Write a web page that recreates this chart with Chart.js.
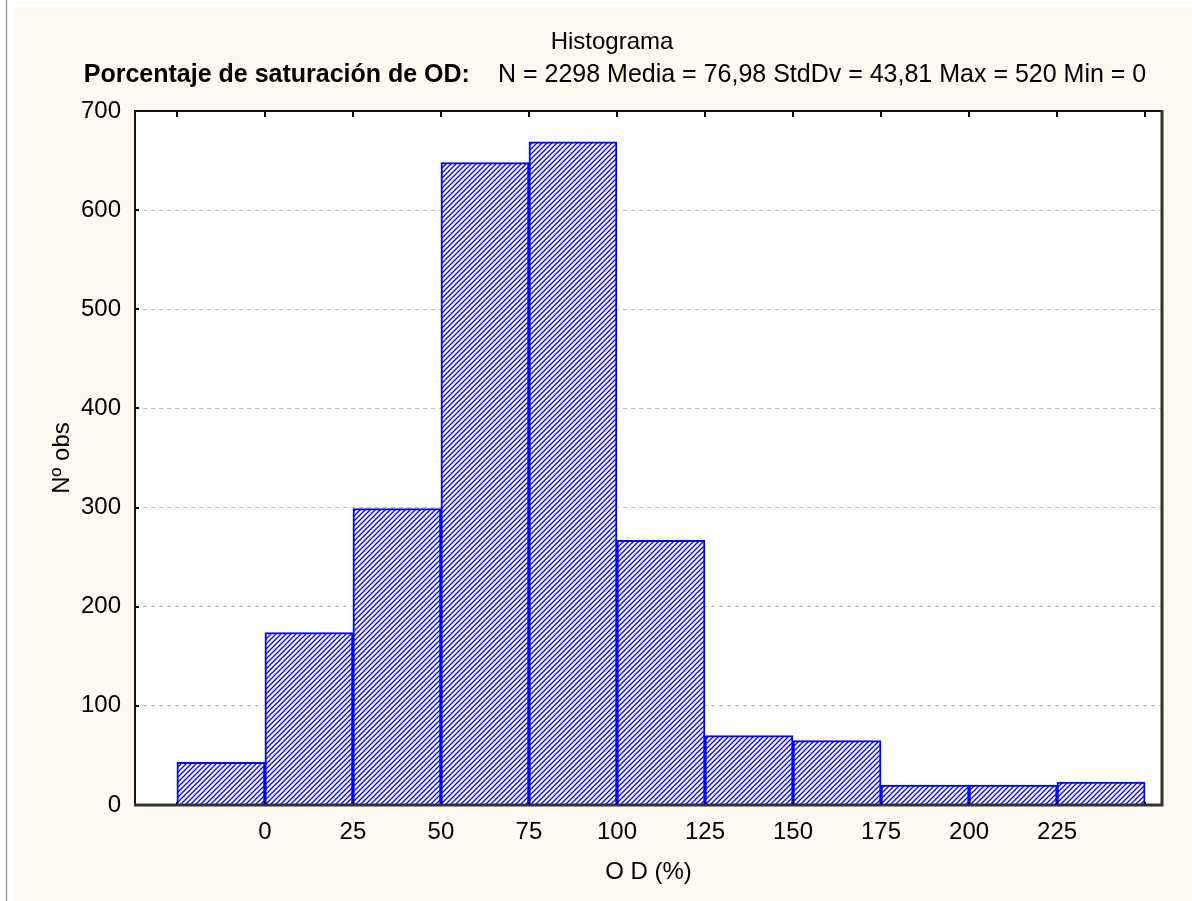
<!DOCTYPE html>
<html>
<head>
<meta charset="utf-8">
<title>Histograma</title>
<script src="https://cdn.jsdelivr.net/npm/chart.js@4.4.1/dist/chart.umd.min.js"></script>
<style>
    html, body { margin: 0; padding: 0; background: #fdf9ef; }
    #cnv-hist { display: block; }
</style>
</head>
<body>
<canvas id="cnv-hist" width="1192" height="901"></canvas>
<script>
// bin edges of the histogram (OD %), one bar between each pair
var binEdges = [-25, 0, 25, 50, 75, 100, 125, 150, 175, 200, 225, 250];
// number of observations per bin
var counts = [43, 174, 299, 648, 669, 267, 70, 65, 20, 20, 23];
// labelled x ticks
var xTicks = [0, 25, 50, 75, 100, 125, 150, 175, 200, 225];
// y ticks
var yTicks = [0, 100, 200, 300, 400, 500, 600, 700];
// visible x range of the plot
var xRange = [-36.9, 254.8];

var titleText = 'Histograma';
var subtitleBold = 'Porcentaje de saturación de OD:';
var subtitleStats = 'N = 2298 Media = 76,98 StdDv = 43,81 Max = 520 Min = 0';

(function(win){

    var FONT = "'Liberation Sans', Arial, sans-serif";
    var CREAM = '#fdf9ef';
    var BLUE = '#0000ff';

    var init = function(){
        Chart.defaults.font.family = FONT;
        Chart.defaults.font.size = 24;
        Chart.defaults.color = '#000';
        setChart();
    };

    //--------------------------------------
    // Helpers
    //--------------------------------------
    var makeHatch = function(ctx){
        var c = document.createElement('canvas');
        c.width = 5;
        c.height = 5;
        var g = c.getContext('2d');
        g.fillStyle = '#fff';
        g.fillRect(0, 0, 5, 5);
        g.strokeStyle = BLUE;
        g.lineWidth = 1.3;
        g.beginPath();
        g.moveTo(-1, 6); g.lineTo(6, -1);
        g.moveTo(-1, 1); g.lineTo(1, -1);
        g.moveTo(4, 6); g.lineTo(6, 4);
        g.stroke();
        return ctx.createPattern(c, 'repeat');
    };

    var getBarData = function(){
        var pts = [];
        for(var i = 0; i < counts.length; i++){
            pts.push({ x: (binEdges[i] + binEdges[i + 1]) / 2, y: counts[i] });
        }
        return pts;
    };

    //--------------------------------------
    // Plugins
    //--------------------------------------
    var backgroundPlugin = {
        id: 'background',
        beforeDraw: function(chart){
            var ctx = chart.ctx;
            var a = chart.chartArea;
            ctx.save();
            ctx.fillStyle = CREAM;
            ctx.fillRect(0, 0, chart.width, chart.height);
            //white window edge at left and top
            ctx.fillStyle = '#fff';
            ctx.fillRect(0, 0, 15, chart.height);
            ctx.fillRect(0, 0, chart.width, 6);
            ctx.strokeStyle = '#a0a0a0';
            ctx.lineWidth = 1.5;
            ctx.beginPath();
            ctx.moveTo(6.5, 0);
            ctx.lineTo(6.5, chart.height);
            ctx.stroke();
            //plot area
            ctx.fillStyle = '#fff';
            ctx.fillRect(a.left, a.top, a.right - a.left, a.bottom - a.top);
            ctx.restore();
        }
    };

    var framePlugin = {
        id: 'frame',
        afterDraw: function(chart){
            var ctx = chart.ctx;
            var a = chart.chartArea;
            var xs = chart.scales.x;
            var ys = chart.scales.y;
            var i, px;
            ctx.save();

            //tick marks pointing inward
            ctx.strokeStyle = '#000';
            ctx.lineWidth = 2;
            ctx.beginPath();
            for(i = 0; i < binEdges.length; i++){
                px = Math.round(xs.getPixelForValue(binEdges[i]));
                ctx.moveTo(px, a.top);
                ctx.lineTo(px, a.top + 6);
                ctx.moveTo(px, a.bottom);
                ctx.lineTo(px, a.bottom - 3);
            }
            for(i = 0; i < yTicks.length; i++){
                px = Math.round(ys.getPixelForValue(yTicks[i]));
                ctx.moveTo(a.left, px);
                ctx.lineTo(a.left + 4, px);
            }
            ctx.stroke();

            //frame
            ctx.lineWidth = 2;
            ctx.strokeStyle = '#111';
            ctx.beginPath();
            ctx.moveTo(a.left, a.bottom);
            ctx.lineTo(a.left, a.top);
            ctx.lineTo(a.right, a.top);
            ctx.stroke();
            ctx.lineWidth = 3;
            ctx.strokeStyle = '#333';
            ctx.beginPath();
            ctx.moveTo(a.left - 1, a.bottom);
            ctx.lineTo(a.right, a.bottom);
            ctx.lineTo(a.right, a.top - 1);
            ctx.stroke();

            //titles
            ctx.fillStyle = '#000';
            ctx.textBaseline = 'middle';
            ctx.textAlign = 'center';
            ctx.font = '24px ' + FONT;
            ctx.fillText(titleText, 612, 42);

            var gap = 28;
            ctx.font = 'bold 25px ' + FONT;
            var wb = ctx.measureText(subtitleBold).width;
            ctx.font = '25px ' + FONT;
            var wr = ctx.measureText(subtitleStats).width;
            var x0 = 615 - (wb + gap + wr) / 2;
            ctx.textAlign = 'left';
            ctx.font = 'bold 25px ' + FONT;
            ctx.fillText(subtitleBold, x0, 75);
            ctx.font = '25px ' + FONT;
            ctx.fillText(subtitleStats, x0 + wb + gap, 75);

            ctx.restore();
        }
    };

    //--------------------------------------
    // Chart
    //--------------------------------------
    var setChart = function(){
        var cnv = document.getElementById('cnv-hist');
        var ctx = cnv.getContext('2d');

        var chart = new Chart(cnv, {
            type: 'bar',
            data: {
                datasets: [{
                    data: getBarData(),
                    backgroundColor: makeHatch(ctx),
                    borderColor: BLUE,
                    borderWidth: 2,
                    barPercentage: 1,
                    categoryPercentage: 1
                }]
            },
            options: {
                responsive: false,
                animation: false,
                devicePixelRatio: 1,
                layout: {
                    padding: { top: 111, right: 30, bottom: 0, left: 20 }
                },
                plugins: {
                    legend: { display: false },
                    tooltip: { enabled: false },
                    title: { display: false }
                },
                scales: {
                    x: {
                        type: 'linear',
                        offset: false,
                        min: xRange[0],
                        max: xRange[1],
                        afterBuildTicks: function(axis){
                            axis.ticks = xTicks.map(function(v){ return { value: v }; });
                        },
                        afterFit: function(axis){
                            axis.height = 96;
                        },
                        grid: { display: false, drawTicks: false, offset: false },
                        border: { display: false },
                        ticks: {
                            padding: 13,
                            maxRotation: 0,
                            autoSkip: false,
                            color: '#000'
                        },
                        title: {
                            display: true,
                            text: 'O D (%)',
                            color: '#000',
                            font: { size: 24 },
                            padding: { top: 0, bottom: 14 }
                        }
                    },
                    y: {
                        min: yTicks[0],
                        max: yTicks[yTicks.length - 1],
                        afterBuildTicks: function(axis){
                            axis.ticks = yTicks.map(function(v){ return { value: v }; });
                        },
                        afterFit: function(axis){
                            axis.width = 115;
                        },
                        grid: {
                            drawTicks: false,
                            lineWidth: 1,
                            color: function(c){
                                var v = c.tick ? c.tick.value : null;
                                if(v === yTicks[0] || v === yTicks[yTicks.length - 1]){
                                    return 'rgba(0,0,0,0)';
                                }
                                return '#bdbdbd';
                            }
                        },
                        border: { display: false, dash: [4, 4] },
                        ticks: {
                            padding: 14,
                            color: '#000'
                        },
                        title: {
                            display: true,
                            text: 'Nº obs',
                            color: '#000',
                            font: { size: 24 },
                            padding: { top: 28, bottom: 0 }
                        }
                    }
                }
            },
            plugins: [backgroundPlugin, framePlugin]
        });
        win.histChart = chart;
    };

    init();

})(window);
</script>
</body>
</html>
